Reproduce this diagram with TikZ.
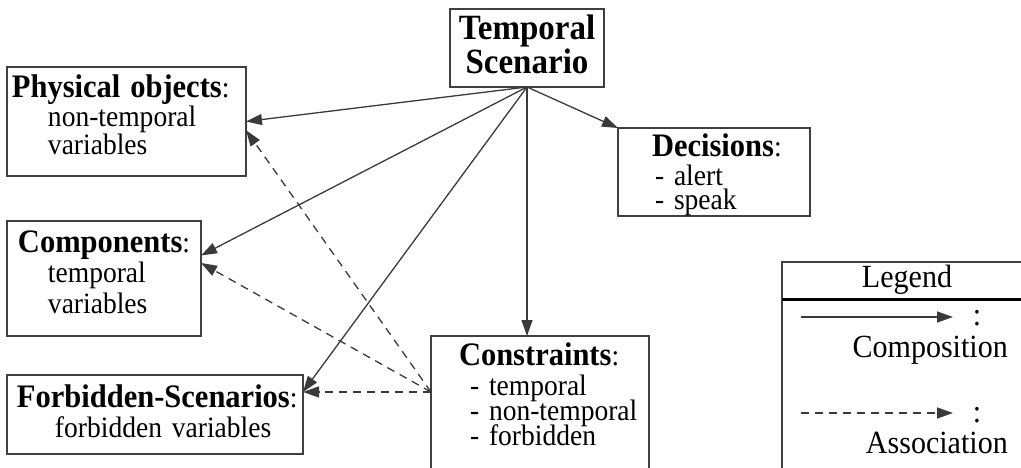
\documentclass[tikz,border=0pt]{standalone}
\usepackage{fontspec}
\setmainfont{Liberation Serif}[FakeStretch=0.93]
\usetikzlibrary{arrows.meta,calc}
\definecolor{boxgray}{HTML}{404040}
\definecolor{linegray}{HTML}{3A3A3A}
\newcommand{\hd}[1]{{\fontsize{32.8}{30}\selectfont\bfseries #1}:}

\begin{document}
\begin{tikzpicture}[x=1pt,y=-1pt,
    box/.style={draw=boxgray, line width=1.4pt, rectangle, anchor=north west, outer sep=0pt,
      inner xsep=2pt, inner ysep=0pt, align=left},
    compo/.style={draw=linegray, line width=1.3pt, -{Triangle[length=16pt,width=11pt]}},
    assoc/.style={compo, dash pattern=on 8pt off 6pt},
    legtext/.style={inner sep=0pt, font=\fontsize{32.3}{30}\selectfont}]
   \useasboundingbox (0,0) rectangle (1021,468);
   \node [box, align=center, text width=150pt, text height=31pt, text depth=47pt,
     font=\fontsize{35.5}{32}\selectfont\bfseries] (ts) at (450,9) {Temporal\\Scenario};
   \node [box, text width=235pt, text height=31pt, text depth=78pt,
     font=\fontsize{29.6}{28.5}\selectfont] (phys) at (7,67)
     {\hspace*{3pt}\hd{Physical objects}\\ \hspace*{39pt}non-temporal\\ \hspace*{39pt}variables};
   \node [box, text width=190pt, text height=31pt, text depth=84pt,
     font=\fontsize{29.6}{30.5}\selectfont] (comp) at (7,221)
     {\hspace*{9pt}\hd{Components}\\ \hspace*{39pt}temporal\\ \hspace*{39pt}variables};
   \node [box, text width=292pt, text height=32pt, text depth=47pt,
     font=\fontsize{29.6}{30.5}\selectfont] (forb) at (7,375)
     {\hspace*{8pt}\hd{Forbidden-Scenarios}\\ \hspace*{46pt}forbidden variables};
   \node [box, text width=214pt, text height=29pt, text depth=160pt,
     font=\fontsize{29.6}{30}\selectfont] (cons) at (431,336)
     {\hspace*{26pt}\hd{Constraints}\\ \hspace*{37pt}- temporal\\[-5pt]
      \hspace*{37pt}- non-temporal\\[-5pt] \hspace*{37pt}- forbidden};
   \node [box, text width=188pt, text height=29pt, text depth=59pt,
     font=\fontsize{29.6}{29}\selectfont] (dec) at (618,128)
     {\hspace*{32pt}\hd{Decisions}\\ \hspace*{35pt}- alert\\[-5pt] \hspace*{35pt}- speak};
   \coordinate (forbin) at ($(forb.north east)!0.215!(forb.south east)$);
   \draw [compo] (ts.south) -- (phys.east);
   \draw [compo] (ts.south) -- ($(comp.north east)!0.3!(comp.south east)$);
   \draw [compo] (ts.south) -- (forbin);
   \draw [compo] (ts.south) -- (ts.south |- cons.north);
   \draw [compo] (ts.south) -- (dec.north west);
   \draw [assoc] (cons.west |- forbin) -- (forbin);
   \draw [assoc] (cons.west |- forbin) -- ($(phys.north east)!0.58!(phys.south east)$);
   \draw [assoc] (cons.west |- forbin) -- ($(comp.north east)!0.365!(comp.south east)$);
   \node [draw=boxgray, line width=1.4pt, anchor=north west, outer sep=0pt,
     minimum width=250pt, minimum height=260pt] (legend) at (782,262) {};
   \node [legtext, anchor=north, text height=25pt, text depth=12pt] (legtitle) at (legend.north) {Legend};
   \draw [line width=2.2pt] (legend.west |- legtitle.south) -- (legend.east |- legtitle.south);
   \coordinate (cstart) at (801,317);
   \coordinate (cend) at (953,317);
   \draw [compo] (cstart) -- (cend);
   \node [legtext, anchor=base] (ccolon) at (977,325) {:};
   \node [legtext, anchor=base east] (ctext) at (1008,357) {Composition};
   \coordinate (astart) at (801,413);
   \coordinate (aend) at (953,413);
   \draw [assoc] (astart) -- (aend);
   \node [legtext, anchor=base] (acolon) at (977,422) {:};
   \node [legtext, anchor=base east] (atext) at (1008,453) {Association};
\end{tikzpicture}
\end{document}
